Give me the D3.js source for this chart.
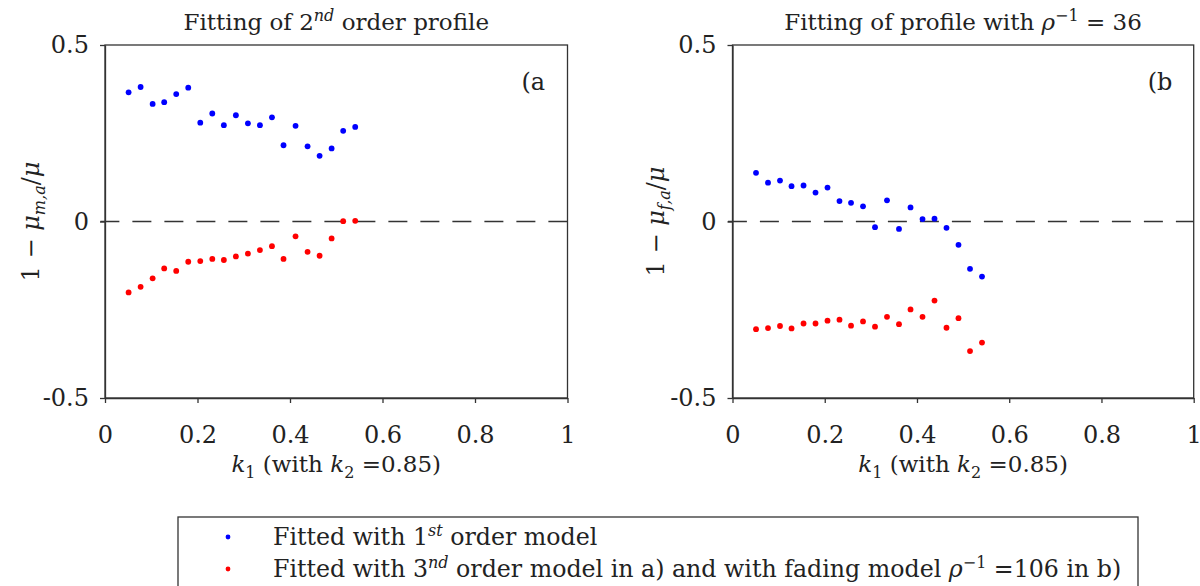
<!DOCTYPE html>
<html>
<head>
<meta charset="utf-8">
<script src="https://cdn.jsdelivr.net/npm/d3@7"></script>
<style>
  html, body { margin: 0; padding: 0; background: #fff; }
  svg { display: block; }
  text { font-family: "DejaVu Serif", "Liberation Serif", serif; fill: #222; }
</style>
</head>
<body>
<svg id="chart" width="1200" height="586"></svg>
<script>
// k1 values shared by both panels
const k1 = [0.051, 0.077, 0.103, 0.128, 0.154, 0.180, 0.206, 0.232, 0.257, 0.283,
            0.309, 0.335, 0.361, 0.386, 0.412, 0.438, 0.464, 0.490, 0.515, 0.541];

// Panel a: 2nd order profile
const aFirstOrder = [0.366, 0.381, 0.333, 0.338, 0.361, 0.379, 0.280, 0.306, 0.273, 0.301,
                     0.278, 0.273, 0.295, 0.216, 0.271, 0.213, 0.186, 0.207, 0.257, 0.268];
const aThirdOrder = [-0.201, -0.185, -0.161, -0.133, -0.140, -0.114, -0.112, -0.106, -0.109, -0.099,
                     -0.091, -0.081, -0.070, -0.106, -0.042, -0.086, -0.097, -0.048, 0.001, 0.002];

// Panel b: profile with rho^-1 = 36
const bFirstOrder = [0.138, 0.110, 0.116, 0.100, 0.102, 0.082, 0.096, 0.058, 0.053, 0.043,
                     -0.016, 0.060, -0.021, 0.040, 0.007, 0.008, -0.018, -0.066, -0.134, -0.156];
const bFading = [-0.305, -0.302, -0.296, -0.303, -0.289, -0.289, -0.281, -0.278, -0.295, -0.283,
                 -0.298, -0.270, -0.291, -0.249, -0.270, -0.224, -0.301, -0.274, -0.367, -0.343];

const xTicks = [0, 0.2, 0.4, 0.6, 0.8, 1];
const yTicks = [-0.5, 0, 0.5];

const BLUE = "#0000ff", RED = "#ff0000", AXIS = "#333";
const FONT = '"DejaVu Serif", "Liberation Serif", serif';
const svg = d3.select("#chart");
const plain = d => String(d); // keeps an ASCII hyphen for negatives

function panel(cfg) {
  const x = d3.scaleLinear().domain([0, 1]).range([cfg.x0, cfg.x1]);
  const y = d3.scaleLinear().domain([-0.5, 0.5]).range([398, 45]);
  const g = svg.append("g");

  // frame
  g.append("rect")
    .attr("x", x(0)).attr("y", y(0.5))
    .attr("width", x(1) - x(0)).attr("height", y(-0.5) - y(0.5))
    .attr("fill", "none").attr("stroke", AXIS).attr("stroke-width", 1.3);

  const xAxis = g.append("g").attr("transform", `translate(0,${y(-0.5)})`)
    .call(d3.axisBottom(x).tickValues(xTicks).tickSize(5).tickSizeOuter(0).tickFormat(plain));
  const yAxis = g.append("g").attr("transform", `translate(${x(0)},0)`)
    .call(d3.axisLeft(y).tickValues(yTicks).tickSize(5).tickSizeOuter(0).tickFormat(plain));
  [xAxis, yAxis].forEach(a => {
    a.attr("font-family", FONT);
    a.select(".domain").attr("stroke", AXIS).attr("stroke-width", 1.3);
    a.selectAll(".tick line").attr("stroke", AXIS).attr("stroke-width", 1.3);
    a.selectAll(".tick text").style("font-family", FONT)
      .style("font-size", "24px").attr("fill", "#222");
  });
  xAxis.selectAll(".tick text").attr("y", 28);
  yAxis.selectAll(".tick text").attr("x", -16);

  // zero reference line
  g.append("line")
    .attr("x1", x(-0.01)).attr("x2", x(1)).attr("y1", y(0)).attr("y2", y(0))
    .attr("stroke", "#333").attr("stroke-width", 1.6).attr("stroke-dasharray", "19,13");

  // series
  [[cfg.s1, BLUE], [cfg.s2, RED]].forEach(([vals, col]) => {
    g.append("g").selectAll("circle").data(vals).join("circle")
      .attr("cx", (d, i) => x(k1[i])).attr("cy", d => y(d))
      .attr("r", 2.9).attr("fill", col);
  });

  // panel tag
  g.append("text").attr("x", x(1) - 46).attr("y", y(0.5) + 45)
    .style("font-size", "24px").text(cfg.tag);

  // title
  const t = g.append("text").attr("x", (x(0) + x(1)) / 2).attr("y", 30)
    .attr("text-anchor", "middle").style("font-size", "23px");
  cfg.title(t);

  // x label
  const xl = g.append("text").attr("x", (x(0) + x(1)) / 2).attr("y", 472)
    .attr("text-anchor", "middle").style("font-size", "23px");
  xl.append("tspan").attr("font-style", "italic").text("k");
  xl.append("tspan").attr("dy", 6).style("font-size", "16px").text("1");
  xl.append("tspan").attr("dy", -6).text("  (with ");
  xl.append("tspan").attr("font-style", "italic").text("k");
  xl.append("tspan").attr("dy", 6).style("font-size", "16px").text("2");
  xl.append("tspan").attr("dy", -6).text(" =0.85)");

  // y label
  const yl = g.append("text")
    .attr("transform", `translate(${cfg.yLabelX},${y(0)}) rotate(-90)`)
    .attr("text-anchor", "middle").style("font-size", "24px");
  yl.append("tspan").text("1 − ");
  yl.append("tspan").attr("font-style", "italic").text("μ");
  yl.append("tspan").attr("dy", 6).attr("font-style", "italic").style("font-size", "16px").text(cfg.sub);
  yl.append("tspan").attr("dy", -6).text("/");
  yl.append("tspan").attr("font-style", "italic").text("μ");
}

panel({
  x0: 105, x1: 567.5, yLabelX: 39, tag: "(a",
  s1: aFirstOrder, s2: aThirdOrder, sub: "m,a",
  title: t => {
    t.append("tspan").text("Fitting of 2");
    t.append("tspan").attr("dy", -9).attr("font-style", "italic").style("font-size", "16px").text("nd");
    t.append("tspan").attr("dy", 9).text(" order profile");
  }
});

panel({
  x0: 732.5, x1: 1193.7, yLabelX: 664, tag: "(b",
  s1: bFirstOrder, s2: bFading, sub: "f,a",
  title: t => {
    t.append("tspan").text("Fitting of profile with ");
    t.append("tspan").attr("font-style", "italic").text("ρ");
    t.append("tspan").attr("dy", -9).style("font-size", "16px").text("−1");
    t.append("tspan").attr("dy", 9).text(" = 36");
  }
});

// legend
const lg = svg.append("g");
lg.append("rect").attr("x", 178).attr("y", 517).attr("width", 960).attr("height", 80)
  .attr("fill", "#fff").attr("stroke", AXIS).attr("stroke-width", 1.3);
const legendRows = [
  { color: BLUE, y: 537, build: t => {
      t.append("tspan").text("Fitted with 1");
      t.append("tspan").attr("dy", -9).attr("font-style", "italic").style("font-size", "16px").text("st");
      t.append("tspan").attr("dy", 9).text(" order model");
  }},
  { color: RED, y: 569, build: t => {
      t.append("tspan").text("Fitted with 3");
      t.append("tspan").attr("dy", -9).attr("font-style", "italic").style("font-size", "16px").text("nd");
      t.append("tspan").attr("dy", 9).text(" order model in a) and with fading model ");
      t.append("tspan").attr("font-style", "italic").text("ρ");
      t.append("tspan").attr("dy", -9).style("font-size", "16px").text("−1");
      t.append("tspan").attr("dy", 9).text(" =106 in b)");
  }}
];
legendRows.forEach(r => {
  lg.append("circle").attr("cx", 228).attr("cy", r.y).attr("r", 2.4).attr("fill", r.color);
  const t = lg.append("text").attr("x", 273).attr("y", r.y + 8).style("font-size", "23.7px");
  r.build(t);
});
</script>
</body>
</html>
